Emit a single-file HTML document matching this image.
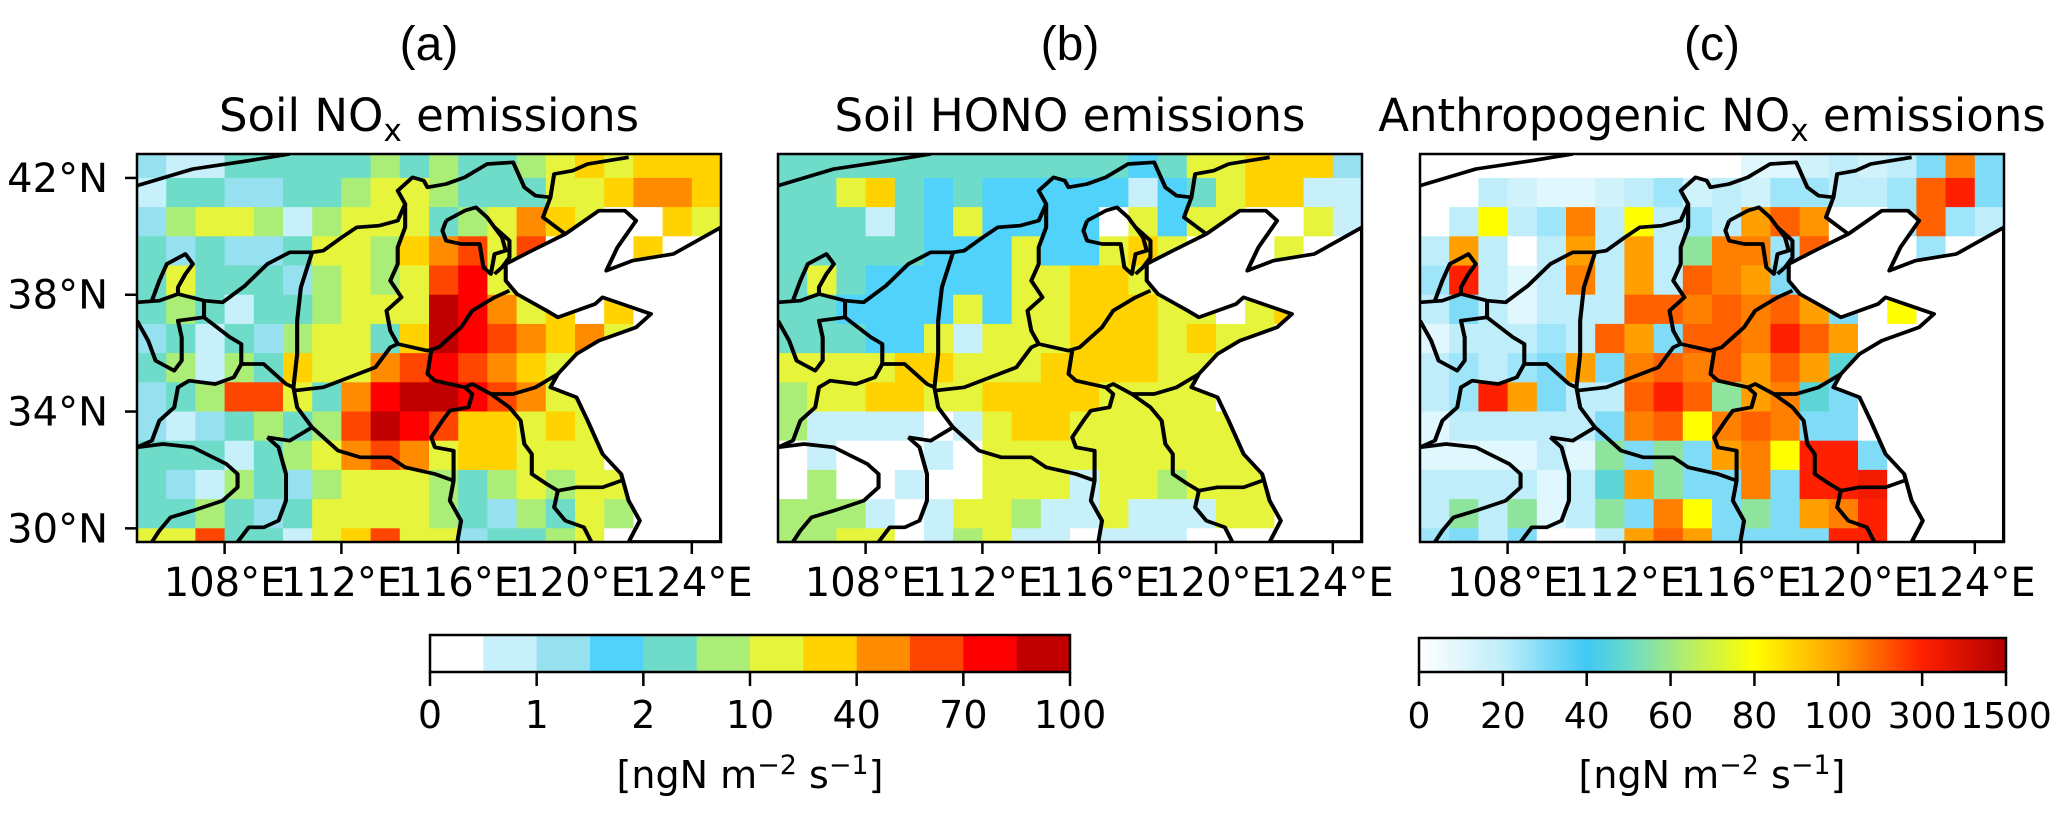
<!DOCTYPE html>
<html><head><meta charset="utf-8">
<style>
html,body{margin:0;padding:0;background:#fff;}
svg{display:block;font-family:"DejaVu Sans","Liberation Sans",sans-serif;}
</style></head>
<body>
<svg id="fig" width="2067" height="813" viewBox="0 0 2067 813" xmlns="http://www.w3.org/2000/svg">
<defs>
<clipPath id="clipA"><rect x="137" y="154" width="584" height="388"/></clipPath>
<clipPath id="clipB"><rect x="778" y="154" width="584" height="388"/></clipPath>
<clipPath id="clipC"><rect x="1420" y="154" width="584" height="388"/></clipPath>
<linearGradient id="gradC" x1="0" x2="1" y1="0" y2="0">
<stop offset="0" stop-color="#ffffff"/>
<stop offset="0.143" stop-color="#bfeefa"/>
<stop offset="0.286" stop-color="#40c8f4"/>
<stop offset="0.36" stop-color="#6cdcc8"/>
<stop offset="0.45" stop-color="#b0ec70"/>
<stop offset="0.571" stop-color="#ffff00"/>
<stop offset="0.714" stop-color="#ffa000"/>
<stop offset="0.857" stop-color="#ff2000"/>
<stop offset="1" stop-color="#b00000"/>
</linearGradient>
</defs>
<g id="maps"></g>
<g id="axes"></g>
</svg>
<script>
// ---- data (1-degree cells, rows from 43N band down to 29N band, cols 105E..124E) ----
const lonStart = [105];
const latTop = [43];
const soilNoxClasses = [
"21144444545445676777",
"14422445665444667887",
"25665156664568760076",
"42422466578969000700",
"46444256569a6000000",
"4541445666ba8670700",
"2414256647ba98786000",
"4515476689a987600000",
"24599648abba98660000",
"21245459ba9776760000",
"44414568986776660000",
"42154256665456566000",
"44542466665425465000",
"66944167966244560000"
];
const soilHonoClasses = [
"44444444444434667772",
"44674343333313467711",
"44414363333063660061",
"44444333633676000600",
"46433333667760000000",
"44333363667776606700",
"44433616667776766000",
"66667766677776600000",
"56677667777666600000",
"51111016776666660000",
"01000106666666666000",
"05001006661665666000",
"55510166511611166000",
"55660156110111000000"
];
const anthNox = [
[0,0,0,0,0,0,0,0,0,0,0,10,10,15,20,15,20,30,150,30],
[0,0,20,15,10,10,15,20,25,15,20,15,25,25,20,20,25,200,300,30],
[0,20,80,20,25,150,20,80,20,25,20,100,200,120,0,0,25,200,25,20],
[20,100,20,0,20,100,20,100,20,60,150,150,25,200,0,0,0,25,0,0],
[25,300,20,10,20,150,20,100,20,200,150,100,30,0,0,0,0,0,0,0],
[20,30,20,10,20,20,20,200,200,150,200,150,200,100,30,0,80,0,0,0],
[10,20,20,20,25,20,200,100,30,200,200,150,300,200,100,0,0,0,0,0],
[20,25,20,25,30,100,30,150,200,150,200,100,200,100,50,0,0,0,0,0],
[20,25,300,100,30,20,20,200,300,200,60,100,150,50,30,0,0,0,0,0],
[10,20,20,20,20,20,30,150,200,80,150,200,150,30,30,0,0,0,0,0],
[10,10,10,10,20,10,60,30,60,30,100,150,80,300,300,30,0,0,0,0],
[20,20,20,20,10,20,50,100,60,30,30,150,30,300,300,500,0,0,0,0],
[20,60,20,60,10,20,60,30,150,80,30,60,30,100,150,300,0,0,0,0],
[25,30,20,30,0,0,20,100,200,100,30,30,30,30,300,300,0,0,0,0]
];
const xTickLon = [108,112,116,120,124];
const yTickLat = [42,38,34,30];
const cbarATicks = ["0","1","2","10","40","70","100"];
const cbarCTicks = ["0","20","40","60","80","100","300","1500"];
const classColors = ["#ffffff","#c8f0fa","#96e0f0","#50d2fa","#6edcc8","#aaee78","#e6f53c","#ffd200","#ff8c00","#ff4600","#ff0000","#c00000"];
const cScaleVals = [0,20,40,55,65,80,100,300,1500];
const cScaleCols = ["#ffffff","#bfeefa","#40c8f4","#6cdcc8","#b0ec70","#ffff00","#ffa000","#ff2000","#b00000"];

const NS="http://www.w3.org/2000/svg";
const DEG=29.2, TOPLAT=42.82, LON0=105, PY=154, PW=584, PH=388;
const panelsX=[137,778,1420];
function xOf(px,lon){return px+(lon-LON0)*DEG;}
function yOf(lat){return PY+(TOPLAT-lat)*DEG;}
function mk(tag,attrs,parent){const e=document.createElementNS(NS,tag);for(const k in attrs)e.setAttribute(k,attrs[k]);parent.appendChild(e);return e;}
function hex(c){return [parseInt(c.substr(1,2),16),parseInt(c.substr(3,2),16),parseInt(c.substr(5,2),16)];}
function contColor(v){
  for(let i=0;i<cScaleVals.length-1;i++){
    if(v<=cScaleVals[i+1]){const t=(v-cScaleVals[i])/(cScaleVals[i+1]-cScaleVals[i]);
      const a=hex(cScaleCols[i]),b=hex(cScaleCols[i+1]);
      return "rgb("+a.map((x,k)=>Math.round(x+(b[k]-x)*t)).join(",")+")";}
  }
  return cScaleCols[cScaleCols.length-1];
}
const maps=document.getElementById('maps');
const axes=document.getElementById('axes');

const seaPoly="1568,220 1440,300 1330,320 1260,350 1290,280 1340,200 1310,170 1240,170 1150,240 1060,290 990,330 990,380 1020,420 1100,470 1130,490 1230,450 1250,430 1380,480 1340,520 1240,560 1180,600 1130,660 1110,700 1180,730 1210,800 1250,900 1300,960 1320,1040 1350,1100 1320,1164 1568,1164";
const borderLines=[
"0,95 150,45 300,20 410,0",
"0,445 60,440 110,420 180,440 230,445 290,395 350,330 410,295 470,295 500,290 550,250 590,220 650,215 700,200 720,150 700,110 740,70 770,80 780,100 830,90 880,70 940,30 1010,25 1040,100 1070,125 1110,130 1120,60 1170,50 1210,30 1320,10",
"1110,130 1090,190 1150,240",
"110,420 110,400 130,360 150,330 130,300 80,330 60,380 40,440",
"0,500 30,560 50,620 100,650 120,620 120,550 110,500 180,490 180,440",
"180,490 250,550 280,570 280,630 260,670 210,690 140,680 110,700 100,760 60,800 40,860 0,880",
"470,295 440,400 430,500 430,600 420,700 430,760 470,820 540,890 600,910 680,910 720,940 800,960 850,980",
"420,710 500,700 640,640 680,580 700,570 680,530 670,470 710,430 680,380 700,330 700,280 720,220 720,150",
"700,570 780,590 810,580 870,520 900,470 960,430 1000,410",
"790,590 780,660 800,680 880,700 900,690 950,720 1010,720 1070,700 1100,680 1130,660",
"830,200 880,170 910,160 940,190 960,220 980,250 990,290 960,300 950,360 930,340 920,270 870,270 830,260 820,230 830,200",
"960,220 1000,260 1000,310 980,340 960,360",
"880,700 900,720 890,760 840,770 820,800 790,850 800,880 850,890 850,980 840,1040 870,1100 860,1164",
"950,720 1000,760 1030,800 1040,870 1060,900 1060,960 1100,990 1130,1010 1180,1000 1250,1000 1300,980",
"1130,1010 1120,1060 1150,1100 1200,1120 1220,1164",
"280,630 340,630 400,690 420,700",
"350,850 380,880 400,960 400,1040 380,1100 340,1120 300,1120 270,1164",
"350,850 410,860 470,820",
"0,880 70,870 150,880 240,930 270,960 270,1000 230,1040 150,1070 90,1090 60,1130 40,1164"
];

const panelInfo=[
 {clip:"clipA",kind:"class",data:soilNoxClasses,name:"soil-nox"},
 {clip:"clipB",kind:"class",data:soilHonoClasses,name:"soil-hono"},
 {clip:"clipC",kind:"cont",data:anthNox,name:"anthropogenic-nox"}
];
panelInfo.forEach((p,pi)=>{
  const px=panelsX[pi];
  const g=mk('g',{'clip-path':'url(#'+p.clip+')'},maps);
  
  
  const nrows=p.data.length;
  for(let r=0;r<nrows;r++){
    for(let c=0;c<20;c++){
      let col;
      if(p.kind==="class"){const ch=p.data[r][c]||"0";col=classColors[parseInt(ch,16)];}
      else col=contColor(p.data[r][c]||0);
      const lat=latTop[0]-r, lon=lonStart[0]+c;
      const rc=mk('rect',{x:xOf(px,lon).toFixed(1),y:yOf(lat).toFixed(1),width:(DEG+0.6).toFixed(1),height:(DEG+0.6).toFixed(1),fill:col},g);
      
      
    }
  }
  const geo=mk('g',{transform:'translate('+px+','+PY+') scale('+(PW/1568)+','+(PH/1164)+')'},g);
  
  
  const sea=mk('polygon',{points:seaPoly,fill:'#fff',stroke:'#000','stroke-width':11,'stroke-linejoin':'round'},geo);
  
  
  borderLines.forEach(b=>{
    const pl=mk('polyline',{points:b,fill:'none',stroke:'#000','stroke-width':11,'stroke-linejoin':'round'},geo);
    
    
  });
  const fr=mk('rect',{x:px,y:PY,width:PW,height:PH,fill:'none',stroke:'#000','stroke-width':2.5},axes);
  
  
  xTickLon.forEach(l=>{
    const x=xOf(px,l);
    const t=mk('line',{x1:x,x2:x,y1:PY+PH,y2:PY+PH+12,stroke:'#000','stroke-width':2.5},axes);
    
    
    const tx=mk('text',{x:x,y:596,'text-anchor':'middle','font-size':40,fill:'#000'},axes);
    tx.textContent=l+"°E";
    
    
  });
});
yTickLat.forEach(l=>{
  const y=yOf(l);
  const t=mk('line',{x1:125,x2:137,y1:y,y2:y,stroke:'#000','stroke-width':2.5},axes);
  
  
  const tx=mk('text',{x:108,y:y+14,'text-anchor':'end','font-size':40,fill:'#000'},axes);
  tx.textContent=l+"°N";
  
  
});

const CA0=430,CA1=1070,CY0=635,CY1=672;
const segW=(CA1-CA0)/classColors.length;
classColors.forEach((c,i)=>{
  const r=mk('rect',{x:(CA0+i*segW).toFixed(1),y:CY0,width:(segW+0.5).toFixed(1),height:CY1-CY0,fill:c},axes);
  
  
});
const cbaF=mk('rect',{x:CA0,y:CY0,width:CA1-CA0,height:CY1-CY0,fill:'none',stroke:'#000','stroke-width':2.5},axes);


cbarATicks.forEach((s,i)=>{
  const x=CA0+i*(CA1-CA0)/(cbarATicks.length-1);
  const t=mk('line',{x1:x,x2:x,y1:CY1,y2:CY1+14,stroke:'#000','stroke-width':2.5},axes);
  
  
  const tx=mk('text',{x:x,y:728,'text-anchor':'middle','font-size':38},axes);
  tx.textContent=s;
  
  
});
const CC0=1419,CC1=2006,CCY0=638;
const gr=mk('rect',{x:CC0,y:CCY0,width:CC1-CC0,height:CY1-CCY0,fill:'url(#gradC)',stroke:'#000','stroke-width':2.5},axes);


cbarCTicks.forEach((s,i)=>{
  const x=CC0+i*(CC1-CC0)/(cbarCTicks.length-1);
  const t=mk('line',{x1:x,x2:x,y1:CY1,y2:CY1+14,stroke:'#000','stroke-width':2.5},axes);
  
  
  const tx=mk('text',{x:x,y:728,'text-anchor':'middle','font-size':36},axes);
  tx.textContent=s;
  
  
});
</script>
<svg width="2067" height="813" style="position:absolute;left:0;top:0;pointer-events:none" xmlns="http://www.w3.org/2000/svg">
<g font-family="'Liberation Sans',Arial,sans-serif" font-size="48" text-anchor="middle">
<text x="429" y="60">(a)</text>
<text x="1070" y="60">(b)</text>
<text x="1712" y="60">(c)</text>
</g>
<g font-family="'DejaVu Sans',sans-serif" font-size="45" text-anchor="middle">
<text x="429" y="131">Soil NO<tspan font-size="31" dy="10">x</tspan><tspan dy="-10"> emissions</tspan></text>
<text x="1070" y="131">Soil HONO emissions</text>
<text x="1712" y="131">Anthropogenic NO<tspan font-size="31" dy="10">x</tspan><tspan dy="-10"> emissions</tspan></text>
</g>
<g font-family="'DejaVu Sans',sans-serif" font-size="38" text-anchor="middle">
<text x="750" y="788">[ngN m<tspan font-size="27" dy="-14">−2</tspan><tspan dy="14"> s</tspan><tspan font-size="27" dy="-14">−1</tspan><tspan dy="14">]</tspan></text>
<text x="1712" y="788">[ngN m<tspan font-size="27" dy="-14">−2</tspan><tspan dy="14"> s</tspan><tspan font-size="27" dy="-14">−1</tspan><tspan dy="14">]</tspan></text>
</g>
</svg>
</body></html>
